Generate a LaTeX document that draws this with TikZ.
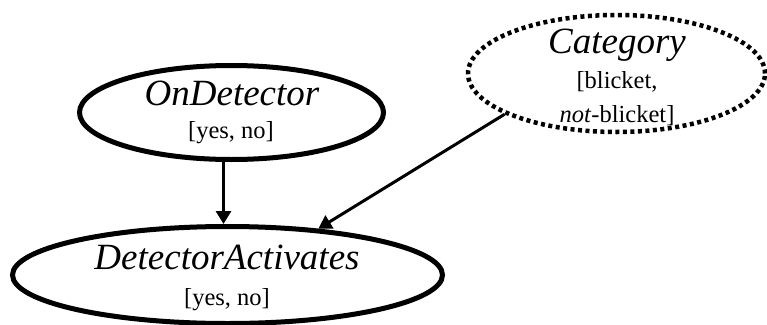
\documentclass[tikz,border=0pt]{standalone}
\usepackage{fontspec}
\setmainfont{Liberation Serif}
\usetikzlibrary{shapes.geometric,arrows.meta}
\begin{document}
\begin{tikzpicture}[x=1pt,y=-1pt,
 var/.style={ellipse, draw, line width=5pt, inner sep=0pt},
 dotvar/.style={ellipse, draw, line width=4.5pt, dash pattern=on 4pt off 3.5pt, inner sep=0pt},
 nm/.style={font=\fontsize{37}{37}\selectfont\itshape, anchor=base, inner sep=0pt},
 vl/.style={font=\fontsize{24.5}{24.5}\selectfont, anchor=base, inner sep=0pt},
 arr/.style={line width=3pt, -{Triangle[length=13pt,width=15pt]}}]
\useasboundingbox (0,0) rectangle (767,324);
\node[var, minimum width=304pt, minimum height=94pt] (od) at (231.5,112.5) {};
\node[var, minimum width=430pt, minimum height=97pt] (da) at (227.5,275) {};
\node[dotvar, minimum width=297pt, minimum height=117pt] (cat) at (616.5,73.5) {};
\node[nm] (odname) at (232,105) {OnDetector};
\node[vl] (odval) at (231,138) {[yes, no]};
\node[nm] (catname) at (617,53) {Category};
\node[vl] (catv1) at (617,88) {[blicket,};
\node[vl] (catv2) at (617,122) {\textit{not}-blicket]};
\node[nm] (daname) at (227,269) {DetectorActivates};
\node[vl] (daval) at (227,305) {[yes, no]};
\draw[arr] ([xshift=-8pt]od.south) -- ([xshift=-8pt]od.south |- da.north);
\draw[arr] (cat.200) -- (da.27);
\end{tikzpicture}
\end{document}
